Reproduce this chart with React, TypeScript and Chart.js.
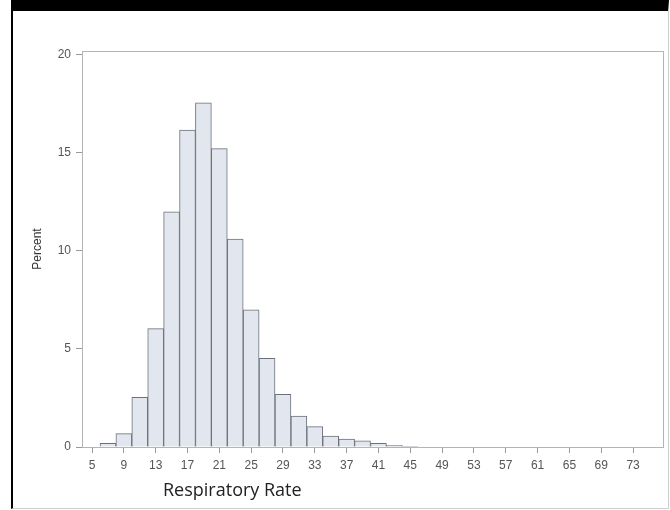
import React, { useEffect, useRef } from "react";
import { Chart, registerables } from "chart.js";

Chart.register(...registerables);

// Histogram bins (centers, width 2) and percent values
const binCenters = [7, 9, 11, 13, 15, 17, 19, 21, 23, 25, 27, 29, 31, 33, 35, 37, 39, 41, 43, 45];
const percents = [0.19, 0.68, 2.53, 6.04, 12.0, 16.17, 17.55, 15.22, 10.6, 7.0, 4.52, 2.69, 1.58, 1.04, 0.56, 0.41, 0.31, 0.19, 0.09, 0.04];
const xTicks = [5, 9, 13, 17, 21, 25, 29, 33, 37, 41, 45, 49, 53, 57, 61, 65, 69, 73];
const yTicks = [0, 5, 10, 15, 20];
const xTitle = "Respiratory Rate";
const yTitle = "Percent";

const tickFont = { family: "'Liberation Sans', Arial, sans-serif", size: 12 };

const framePlugin = {
  id: "frame",
  beforeDatasetsDraw(chart: any) {
    const { ctx, chartArea } = chart;
    ctx.save();
    ctx.strokeStyle = "#b4b4b4";
    ctx.lineWidth = 1;
    ctx.strokeRect(
      Math.round(chartArea.left) + 0.5,
      Math.round(chartArea.top) + 0.5,
      Math.round(chartArea.right - chartArea.left),
      Math.round(chartArea.bottom - chartArea.top)
    );
    ctx.restore();
  },
  afterDraw(chart: any) {
    const { ctx, chartArea } = chart;
    ctx.save();
    ctx.font = "18px 'Open Sans', sans-serif";
    ctx.fillStyle = "#222";
    ctx.textBaseline = "alphabetic";
    ctx.textAlign = "left";
    ctx.fillText(xTitle, chartArea.left + 81, chartArea.bottom + 49);
    ctx.restore();
  },
};

export default function App() {
  const ref = useRef<HTMLCanvasElement | null>(null);

  useEffect(() => {
    if (!ref.current) return;
    const chart = new Chart(ref.current, {
      type: "bar",
      data: {
        datasets: [
          {
            data: binCenters.map((x, i) => ({ x, y: percents[i] })),
            backgroundColor: "#e2e6ee",
            borderColor: "#6c7079",
            borderWidth: 1,
            borderSkipped: "start",
            barPercentage: 1,
            categoryPercentage: 1,
          } as any,
        ],
      },
      options: {
        animation: false,
        responsive: false,
        devicePixelRatio: 1,
        layout: { padding: { left: 0, top: 51, right: 7.5, bottom: 0 } },
        plugins: { legend: { display: false }, tooltip: { enabled: false } },
        scales: {
          x: {
            type: "linear",
            min: 3.74,
            max: 76.7,
            offset: false,
            afterBuildTicks: (s: any) => {
              s.ticks = xTicks.map((v) => ({ value: v }));
            },
            afterFit: (s: any) => {
              s.height = 63;
            },
            grid: { offset: false, drawOnChartArea: false, drawTicks: true, tickLength: 6, color: "#9a9a9a" },
            border: { display: false },
            ticks: { font: tickFont, color: "#555", padding: 5, autoSkip: false, maxRotation: 0, minRotation: 0 },
          },
          y: {
            type: "linear",
            min: 0,
            max: 20.2,
            afterBuildTicks: (s: any) => {
              s.ticks = yTicks.map((v) => ({ value: v }));
            },
            afterFit: (s: any) => {
              s.width = 82;
            },
            grid: { offset: false, drawOnChartArea: false, drawTicks: true, tickLength: 6, color: "#9a9a9a" },
            border: { display: false },
            ticks: { font: tickFont, color: "#555", padding: 5 },
            title: {
              display: true,
              text: yTitle,
              color: "#333",
              font: { family: "'Liberation Sans', Arial, sans-serif", size: 12 },
              padding: { top: 30, bottom: 0 },
            },
          },
        },
      } as any,
      plugins: [framePlugin],
    });
    return () => chart.destroy();
  }, []);

  return (
    <div style={{ position: "fixed", left: 0, top: 0, width: 670, height: 510, background: "#fff" }}>
      <div
        style={{
          position: "absolute",
          left: 11,
          top: 0,
          width: 658,
          height: 509,
          boxSizing: "border-box",
          borderTop: "11px solid #000",
          borderLeft: "2px solid #000",
          borderRight: "1px solid #d0d0d0",
          borderBottom: "1px solid #d0d0d0",
        }}
      />
      <canvas ref={ref} width={670} height={510} style={{ position: "absolute", left: 0, top: 0, width: 670, height: 510 }} />
    </div>
  );
}
